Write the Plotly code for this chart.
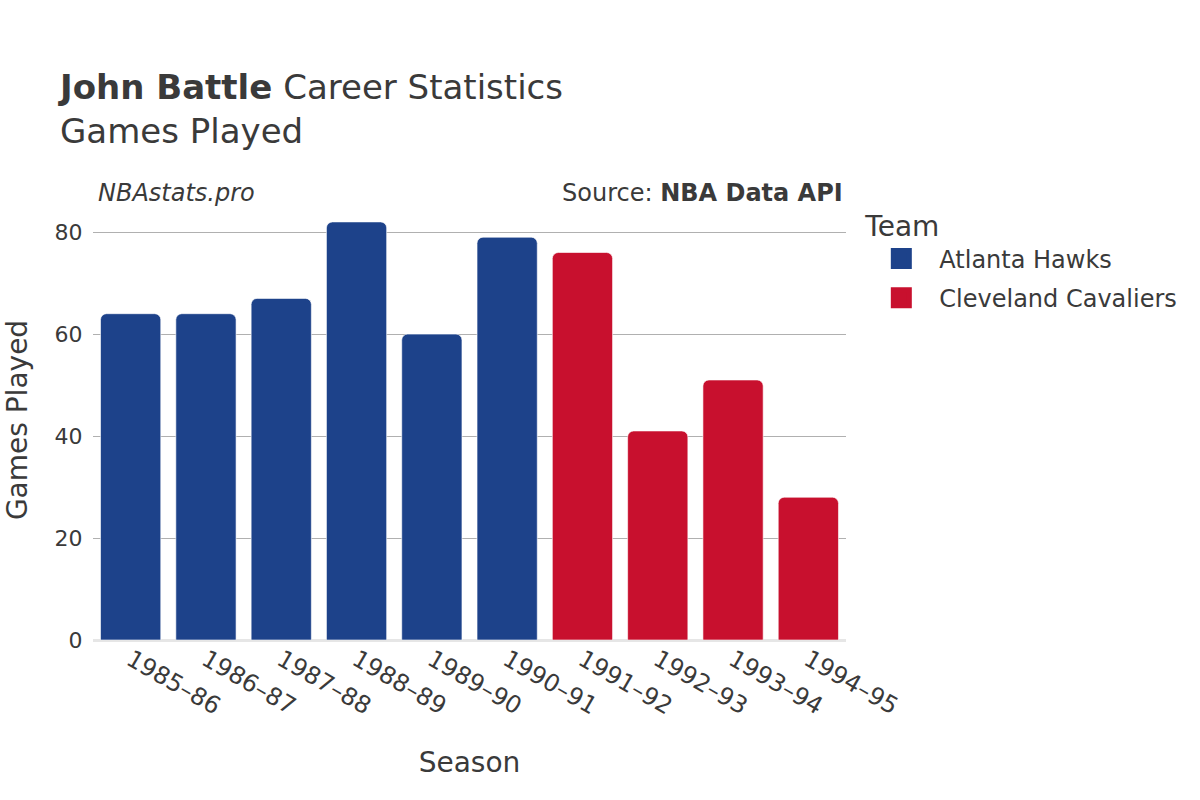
import plotly.graph_objects as go

seasons = ["1985–86", "1986–87", "1987–88", "1988–89", "1989–90",
           "1990–91", "1991–92", "1992–93", "1993–94", "1994–95"]
teams = ["Atlanta Hawks"] * 6 + ["Cleveland Cavaliers"] * 4
games = [64, 64, 67, 82, 60, 79, 76, 41, 51, 28]
team_names = ["Atlanta Hawks", "Cleveland Cavaliers"]
team_colors = {"Atlanta Hawks": "#1D428A", "Cleveland Cavaliers": "#C8102E"}

fig = go.Figure()
for team in team_names:
    xs = [s for s, t in zip(seasons, teams) if t == team]
    ys = [g for g, t in zip(games, teams) if t == team]
    fig.add_trace(go.Bar(
        x=xs, y=ys, name=team, showlegend=False, legendgroup=team,
        marker=dict(color=team_colors[team], line=dict(color="rgba(255,255,255,0.6)", width=1)),
    ))
    # legend proxy (larger square swatch)
    fig.add_trace(go.Scatter(
        x=[None], y=[None], mode="markers", name=team, legendgroup=team,
        marker=dict(symbol="square", size=16, color=team_colors[team],
                    line=dict(color=team_colors[team], width=5)),
    ))

font = "DejaVu Sans"
fig.update_layout(
    width=1200, height=800,
    font=dict(family=font, color="#3a3a3a", size=22),
    paper_bgcolor="white", plot_bgcolor="white",
    barmode="overlay", bargap=0.2, barcornerradius=6,
    margin=dict(l=93, r=354, t=200, b=160),
    title=dict(
        text="<b>John Battle</b> Career Statistics<br>Games Played",
        x=0.05, xanchor="left", y=0.876, yanchor="top",
        font=dict(family=font, size=34, color="#3a3a3a"),
    ),
    legend=dict(
        title=dict(text="Team", font=dict(size=28)),
        font=dict(size=24), x=1.023, y=1.0, yanchor="top",
        tracegroupgap=5, itemwidth=66,
    ),
    xaxis=dict(
        title=dict(text="Season", font=dict(size=28), standoff=32),
        tickangle=30, categoryorder="array", categoryarray=seasons,
        showgrid=False, ticks="", tickfont=dict(size=24),
    ),
    yaxis=dict(
        title=dict(text="Games Played", font=dict(size=28), standoff=18),
        showgrid=True, gridcolor="#b0b0b0", gridwidth=1,
        zeroline=True, zerolinecolor="#e6e6e6", zerolinewidth=3,
        dtick=20, ticks="outside", ticklen=5, tickcolor="rgba(0,0,0,0)",
        tickfont=dict(size=22), range=[0, 86.3],
    ),
    annotations=[
        dict(text="<i>NBAstats.pro</i>", xref="paper", yref="paper",
             x=0, y=1.0, xanchor="left", yanchor="bottom", yshift=-9, xshift=3,
             showarrow=False, font=dict(size=24, color="#3a3a3a")),
        dict(text="Source: <b>NBA Data API</b>", xref="paper", yref="paper",
             x=1, y=1.0, xanchor="right", yanchor="bottom", yshift=-9, xshift=-1,
             showarrow=False, font=dict(size=24, color="#3a3a3a")),
    ],
)

fig.write_html("out.html", config={"displayModeBar": False},
               post_script="document.body.style.margin='0';")
